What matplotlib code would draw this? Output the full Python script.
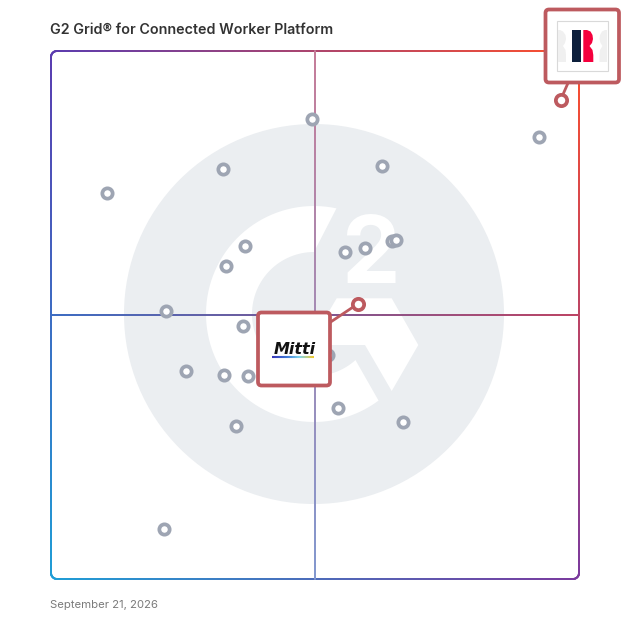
import numpy as np
import matplotlib
matplotlib.use('Agg')
import matplotlib.pyplot as plt
from matplotlib.collections import LineCollection
from matplotlib.colors import to_rgb
from matplotlib.patches import Circle, FancyBboxPatch, Polygon, Rectangle
from matplotlib.transforms import Affine2D

title = 'G2 Grid® for Connected Worker Platform'
date_label = 'September 21, 2026'

# satisfaction / market presence, 0-100 on both axes
other_x = [49.5, 32.6, 62.7, 10.6, 92.5, 36.8, 33.2, 55.7, 59.4, 64.5, 65.3,
           21.8, 36.4, 25.6, 32.8, 37.3, 52.5, 54.4, 66.7, 35.0, 21.4]
other_y = [87.1, 77.7, 78.3, 73.1, 83.7, 63.0, 59.2, 61.9, 62.7, 64.1, 64.2,
           50.7, 48.0, 39.3, 38.7, 38.4, 42.4, 32.4, 29.8, 29.0, 9.4]
highlight_x = [96.5, 58.1]
highlight_y = [90.7, 52.1]

FRAME_L, FRAME_R, FRAME_T, FRAME_B = 51, 579, 51, 579
CX, CY = 314, 314
RED = '#bd5a5f'
GREY = '#9ea5b3'
LOGO_BG = '#ebeef1'

# corner colours of the frame gradient
C_TL = np.array(to_rgb('#5b3cb0'))
C_TR = np.array(to_rgb('#ff4f2b'))
C_BL = np.array(to_rgb('#1f9ed6'))
C_BR = np.array(to_rgb('#7b3a9e'))

fig = plt.figure(figsize=(6.28, 6.28), dpi=100, facecolor='white')
ax = fig.add_axes([FRAME_L / 628, 1 - FRAME_B / 628,
                   (FRAME_R - FRAME_L) / 628, (FRAME_B - FRAME_T) / 628])
ax.set_xlim(0, 100)
ax.set_ylim(0, 100)
ax.axis('off')

# everything that is not a data point is placed in image pixels
px = Affine2D().scale(1, -1).translate(0, 628)


def grad_color(x, y, fade=0.0):
    u = (x - FRAME_L) / (FRAME_R - FRAME_L)
    v = (y - FRAME_T) / (FRAME_B - FRAME_T)
    c = (C_TL * (1 - u) + C_TR * u) * (1 - v) + (C_BL * (1 - u) + C_BR * u) * v
    return tuple(c * (1 - fade) + fade)


def grad_line(xs, ys, lw, z, fade=0.0):
    pts = np.column_stack([xs, ys])
    segs = np.stack([pts[:-1], pts[1:]], axis=1)
    cols = [grad_color(*s.mean(axis=0), fade) for s in segs]
    ax.add_collection(LineCollection(segs, colors=cols, linewidths=lw * 0.72,
                                     capstyle='round', transform=px, zorder=z,
                                     clip_on=False))


def arc(r, a0, a1, n=80):
    t = np.radians(np.linspace(a0, a1, n))
    return np.column_stack([CX + r * np.cos(t), CY - r * np.sin(t)])


def box(x0, y0, x1, y1):
    ax.add_patch(FancyBboxPatch((x0, y0), x1 - x0, y1 - y0,
                                boxstyle='round,pad=0,rounding_size=3.5',
                                fc='white', ec=RED, lw=2.7, transform=px,
                                zorder=8, clip_on=False))


# G2 watermark
ax.add_patch(Circle((CX, CY), 190, fc=LOGO_BG, ec='none', transform=px, zorder=1, clip_on=False))
g_shape = np.vstack([arc(108, 78, 306.7), arc(62, 312, 90)])
ax.add_patch(Polygon(g_shape, fc='white', ec='none', transform=px, zorder=2, clip_on=False))
chevron = [(336.7, 298.3), (391.7, 298.3), (418.3, 345), (391.7, 391), (365, 345), (318, 345), (318, 330)]
ax.add_patch(Polygon(chevron, fc='white', ec='none', transform=px, zorder=2, clip_on=False))
ax.text(371.5, 283.3, '2', color='white', fontsize=67, fontweight='bold', family='Inter',
        ha='center', va='baseline', transform=px, zorder=2, clip_on=False)

# frame and quadrant lines
r = 6
t = np.linspace(0, np.pi / 2, 20)
frame_x = np.concatenate([
    FRAME_L + r - r * np.cos(t), np.linspace(FRAME_L + r, FRAME_R - r, 300),
    FRAME_R - r + r * np.sin(t), np.full(300, FRAME_R),
    FRAME_R - r + r * np.cos(t), np.linspace(FRAME_R - r, FRAME_L + r, 300),
    FRAME_L + r - r * np.sin(t), np.full(300, FRAME_L)])
frame_y = np.concatenate([
    FRAME_T + r - r * np.sin(t), np.full(300, FRAME_T),
    FRAME_T + r - r * np.cos(t), np.linspace(FRAME_T + r, FRAME_B - r, 300),
    FRAME_B - r + r * np.sin(t), np.full(300, FRAME_B),
    FRAME_B - r + r * np.cos(t), np.linspace(FRAME_B - r, FRAME_T + r, 300)])
grad_line(frame_x, frame_y, 2, 3)
grad_line(np.linspace(FRAME_L, FRAME_R, 300), np.full(300, 315), 2, 3)
grad_line(np.full(300, 315), np.linspace(FRAME_T, FRAME_B, 300), 2, 3, fade=0.3)

# connectors
ax.plot([96.5, 97.9], [90.7, 93.9], color=RED, lw=2, zorder=6, clip_on=False)
ax.plot([58.1, 52.7], [52.1, 48.5], color=RED, lw=2, zorder=6, clip_on=False)

# products
ax.scatter(other_x, other_y, s=55, fc='white', ec=GREY, lw=2.7, zorder=5, clip_on=False)
ax.scatter(highlight_x, highlight_y, s=66, fc='white', ec=RED, lw=2.7, zorder=7, clip_on=False)

# logo boxes
box(545.5, 9.5, 619, 82.5)
box(258, 312.5, 330, 385.5)

# right top logo tile
ax.add_patch(Rectangle((557, 20.5), 50.5, 50.5, fc='white', ec='#d9d9d9', lw=0.8, transform=px, zorder=9, clip_on=False))
side_l = [(558, 30), (560, 30), (563, 31.5), (565.5, 35), (566, 39), (565, 43), (563, 46),
          (565.5, 50), (566, 55), (566, 62), (558, 62)]
side_r = [(607, 30), (605, 30), (602, 31.5), (600, 35), (599.5, 39), (600.5, 43), (602.5, 46),
          (600, 50), (599.5, 55), (599.5, 62), (607, 62)]
ax.add_patch(Polygon(side_l, fc='#f0f0f0', ec='none', transform=px, zorder=9, clip_on=False))
ax.add_patch(Polygon(side_r, fc='#f0f0f0', ec='none', transform=px, zorder=9, clip_on=False))
ax.add_patch(Rectangle((572, 30), 9.3, 32, fc='#0d1f3c', ec='none', transform=px, zorder=10, clip_on=False))
r_shape = [(583.3, 30), (587, 30), (590.5, 31.5), (592.5, 35), (593, 39), (592, 43), (589.5, 46),
           (592.5, 50), (593.3, 55), (593.3, 62), (583.3, 62)]
ax.add_patch(Polygon(r_shape, fc='#f5003d', ec='none', transform=px, zorder=10, clip_on=False))

# Mitti logo
ax.text(295, 353.5, 'Mitti', color='#111111', fontsize=11.5, fontweight='bold', style='italic',
        family='DejaVu Sans', ha='center', va='baseline', transform=px, zorder=10, clip_on=False)
u = np.linspace(0, 1, 60)
bar_x = 271.5 + u * 42.5
stops = np.array([to_rgb('#3a35b8'), to_rgb('#3f78d8'), to_rgb('#7fd6ee'), to_rgb('#f8c81e')])
bar_cols = [tuple(np.array([np.interp(v, [0, 0.35, 0.65, 1], stops[:, i]) for i in range(3)])) for v in u[:-1]]
bar_segs = np.stack([np.column_stack([bar_x[:-1], np.full(59, 356.5)]),
                     np.column_stack([bar_x[1:], np.full(59, 356.5)])], axis=1)
ax.add_collection(LineCollection(bar_segs, colors=bar_cols, linewidths=1.5, transform=px, zorder=10, clip_on=False))

# headings
fig.text(50.5 / 628, 1 - 34 / 628, title, fontsize=10.3, fontweight='semibold', family='Inter', color='#333333')
fig.text(50.5 / 628, 1 - 608 / 628, date_label, fontsize=8.15, family='Inter', color='#7a7a7a')

fig.savefig('out.png', dpi=100, facecolor='white')
